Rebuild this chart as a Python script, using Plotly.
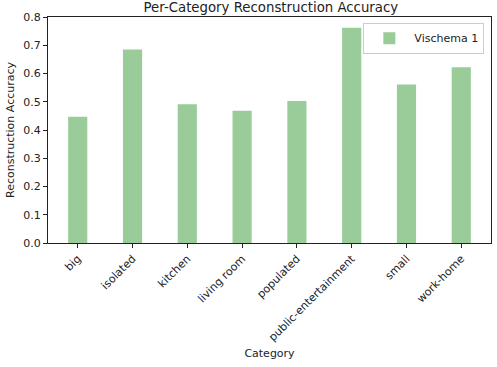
import plotly.graph_objects as go

categories = ["big", "isolated", "kitchen", "living room", "populated",
              "public-entertainment", "small", "work-home"]
accuracy = [0.447, 0.685, 0.491, 0.468, 0.503, 0.762, 0.561, 0.622]
series_name = "Vischema 1"

x_pos = list(range(len(categories)))

fig = go.Figure()
fig.add_trace(go.Bar(
    x=x_pos, y=accuracy, name=series_name, width=0.35,
    marker=dict(color="rgba(0,128,0,0.4)", line=dict(width=0)),
    showlegend=True,
))

font = "DejaVu Sans, sans-serif"
axis_common = dict(showline=True, linecolor="#222", linewidth=1, mirror=True,
                   ticks="outside", ticklen=4, tickcolor="#222", showgrid=False,
                   zeroline=False, tickfont=dict(size=11, color="#222", family=font))

fig.update_layout(
    width=497, height=367,
    margin=dict(l=48, r=6, t=17, b=124),
    plot_bgcolor="white", paper_bgcolor="white",
    font=dict(family=font, color="#222"),
    title=dict(text="Per-Category Reconstruction Accuracy", x=0.545, xanchor="center",
               yref="container", y=1 - 7.5/367, yanchor="middle",
               font=dict(size=13.3, family=font, color="#222")),
    xaxis=dict(range=[-0.5425, 7.5425], tickmode="array", tickvals=x_pos,
               ticktext=categories, tickangle=-45,
               title=dict(text="Category", font=dict(size=11, family=font), standoff=6),
               **axis_common),
    yaxis=dict(range=[0, 0.8], tickmode="array",
               tickvals=[0, 0.1, 0.2, 0.3, 0.4, 0.5, 0.6, 0.7, 0.8],
               tickformat=".1f",
               title=dict(text="Reconstruction Accuracy", font=dict(size=11, family=font), standoff=6),
               **axis_common),
    legend=dict(x=0.985, xanchor="right", y=0.975, yanchor="top",
                bordercolor="#ccc", borderwidth=1, bgcolor="rgba(255,255,255,0.8)",
                itemwidth=40,
                font=dict(size=11, family=font, color="#222")),
)

fig.write_html("out.html")
